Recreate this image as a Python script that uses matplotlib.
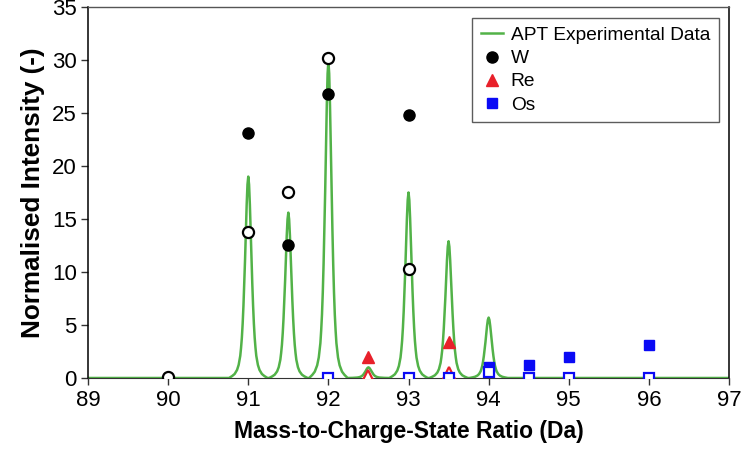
import numpy as np
import matplotlib
matplotlib.use("Agg")
import matplotlib.pyplot as plt

plt.rcParams['font.family'] = ['Liberation Sans', 'DejaVu Sans']

# Experimental peak positions and heights (Da, normalised intensity)
peak_pos = [91.0, 91.5, 92.0, 92.5, 93.0, 93.5, 94.0]
peak_height = [19.0, 15.6, 29.9, 1.0, 17.5, 12.9, 5.7]
# Peak profile: offset (Da) and fraction of peak height
profile_offset = [0.0, 0.01, 0.02, 0.03, 0.04, 0.05, 0.06, 0.07, 0.08, 0.09,
                  0.10, 0.12, 0.14, 0.17, 0.20, 0.24]
profile_frac = [1.0, 0.96, 0.86, 0.73, 0.59, 0.47, 0.36, 0.27, 0.20, 0.15,
                0.11, 0.065, 0.04, 0.02, 0.01, 0.0]

# W isotopes
w_mz_filled = [91.0, 91.5, 92.0, 93.0]
w_int_filled = [23.1, 12.5, 26.8, 24.8]
w_mz_open = [90.0, 91.0, 91.5, 92.0, 93.0]
w_int_open = [0.1, 13.8, 17.5, 30.2, 10.3]
# Re isotopes
re_mz_filled = [92.5, 93.5]
re_int_filled = [2.0, 3.4]
re_mz_open = [92.5, 93.5]
re_int_open = [0.15, 0.5]
# Os isotopes
os_mz_filled = [94.0, 94.5, 95.0, 96.0]
os_int_filled = [1.07, 1.2, 2.0, 3.1]
os_mz_open = [92.0, 93.0, 93.5, 94.0, 94.5, 95.0, 96.0]
os_int_open = [0.0, 0.0, 0.0, 0.6, 0.0, 0.0, 0.0]

xticks = [89, 90, 91, 92, 93, 94, 95, 96, 97]
yticks = [0, 5, 10, 15, 20, 25, 30, 35]

green = '#52b248'
red = '#e8202a'
blue = '#0a0af5'

fig = plt.figure(figsize=(7.41, 4.51), dpi=100)
ax = fig.add_axes([0.1188, 0.1619, 0.8650, 0.8226])

# build the experimental curve
off = np.array(profile_offset)
frac = np.array(profile_frac)
full_off = np.concatenate([-off[::-1], off[1:]])
full_frac = np.concatenate([frac[::-1], frac[1:]])
cx = [88.9]
cy = [0.0]
for p, h in zip(peak_pos, peak_height):
    cx.extend(list(p + full_off))
    cy.extend(list(h * full_frac))
cx.append(97.1)
cy.append(0.0)
ax.plot(cx, cy, color=green, lw=1.8, label='APT Experimental Data', zorder=2)

ms = 8
ax.plot(w_mz_filled, w_int_filled, 'o', color='black', ms=ms, label='W', zorder=4)
ax.plot(w_mz_open, w_int_open, 'o', mfc='white', mec='black', mew=1.6, ms=ms, zorder=4)
ax.plot(re_mz_filled, re_int_filled, '^', color=red, ms=ms + 1, label='Re', zorder=4)
ax.plot(re_mz_open, re_int_open, '^', mfc='white', mec=red, mew=1.6, ms=ms + 1, zorder=3)
ax.plot(os_mz_filled, os_int_filled, 's', color=blue, ms=ms - 0.5, label='Os', zorder=4)
ax.plot(os_mz_open, os_int_open, 's', mfc='white', mec=blue, mew=1.6, ms=ms - 0.5, zorder=4)

ax.set_xlim(89, 97)
ax.set_ylim(0, 35)
ax.set_xticks(xticks)
ax.set_yticks(yticks)
ax.tick_params(axis='both', direction='out', length=5, width=1, labelsize=16,
               top=False, right=False, colors='#333333', labelcolor='black')
ax.tick_params(axis='x', pad=4)
ax.tick_params(axis='y', pad=3)
for s in ['left', 'right']:
    ax.spines[s].set_color('black')
    ax.spines[s].set_linewidth(1.1)
ax.spines['top'].set_color('#555555')
ax.spines['top'].set_linewidth(1.0)
ax.spines['bottom'].set_color('#333333')

ax.set_xlabel('Mass-to-Charge-State Ratio (Da)', fontsize=16.5, fontweight='bold', labelpad=6)
ax.set_ylabel('Normalised Intensity (-)', fontsize=18.8, fontweight='bold', labelpad=5)

leg = ax.legend(loc='upper right', fontsize=13.8, frameon=True, fancybox=False,
                edgecolor='#333333', borderpad=0.45, labelspacing=0.3,
                handlelength=1.15, handletextpad=0.42, borderaxespad=0,
                bbox_to_anchor=(0.984, 0.970))
leg.get_frame().set_linewidth(1.0)

fig.savefig('out.png', dpi=100)
